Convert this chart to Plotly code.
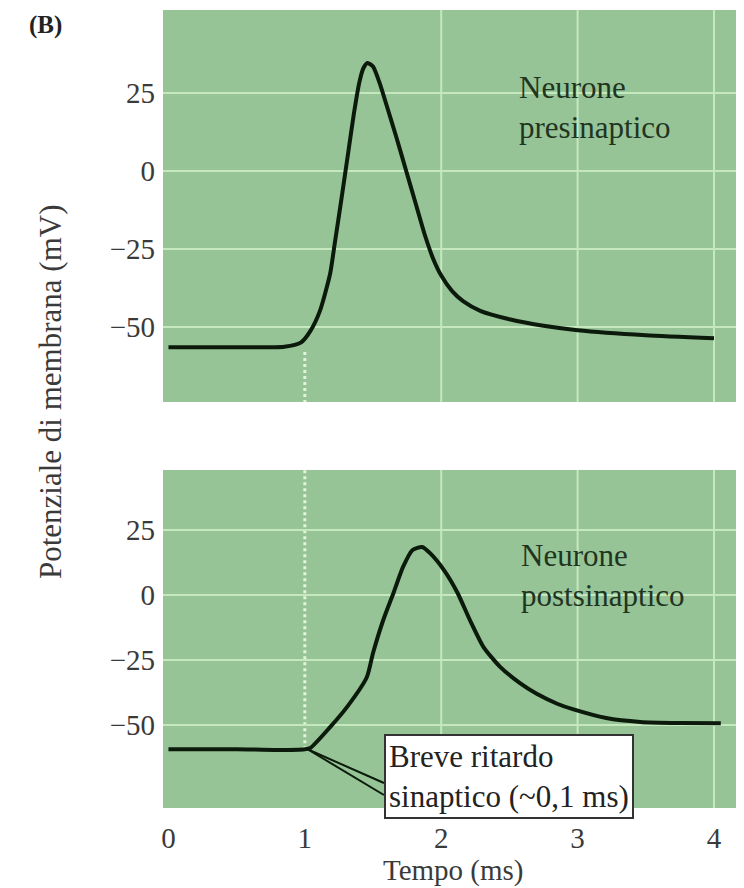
import plotly.graph_objects as go

# ---- data ----
pre_t = [0, 0.5, 0.85, 0.97, 1.04, 1.11, 1.185, 1.22, 1.27, 1.32, 1.36, 1.40, 1.43, 1.46,
         1.50, 1.55, 1.60, 1.67, 1.74, 1.81, 1.88, 1.94, 2.0, 2.08, 2.16, 2.29, 2.5, 2.75, 3.0, 3.5, 4.0]
pre_v = [-56.5, -56.5, -56.3, -55.0, -51.3, -44.9, -33, -23, -8.5, 6.5, 18.5, 28.5, 33, 34.6,
         33.5, 28, 21, 11, 0.5, -10, -20.5, -28, -33.5, -38.5, -41.7, -44.9, -47.5, -49.6, -51, -52.6, -53.6]

post_t = [0, 0.5, 0.8, 1.0, 1.04, 1.185, 1.31, 1.455, 1.50, 1.575, 1.65, 1.72, 1.79, 1.86,
          1.92, 2.02, 2.12, 2.21, 2.31, 2.43, 2.58, 2.70, 2.85, 2.97, 3.21, 3.46, 3.75, 4.05]
post_v = [-59.3, -59.3, -59.6, -59.3, -58.8, -50.8, -43, -31.5, -22.3, -9.6, 0.8, 10.8, 17.3, 18.5,
          16, 9.6, 0.8, -9.6, -20, -27.5, -34, -38, -41.8, -44, -47.3, -48.8, -49.2, -49.3]

x_ticks = [0, 1, 2, 3, 4]
y_ticks = [-50, -25, 0, 25]
grid_t = [2, 3, 4]
delay_t = 1.0

SERIF = "Liberation Serif, Times New Roman, serif"
BG = "#96c496"
GRID = "#c6e8be"
INK = "#0b1a0b"

TOP_RANGE = [-74, 51.6]
BOT_RANGE = [-81.9, 48.1]
X_RANGE = [-0.04, 4.22]

fig = go.Figure()
fig.add_trace(go.Scatter(x=pre_t, y=pre_v, mode="lines", line=dict(color=INK, width=4, shape="spline", smoothing=0.6),
                         xaxis="x", yaxis="y", showlegend=False, hoverinfo="skip"))
fig.add_trace(go.Scatter(x=post_t, y=post_v, mode="lines", line=dict(color=INK, width=4, shape="spline", smoothing=0.6),
                         xaxis="x2", yaxis="y2", showlegend=False, hoverinfo="skip"))

axis_common = dict(showline=False, zeroline=False, ticks="")
tick_font = dict(family=SERIF, size=29, color="#3a3a3a")
fig.update_layout(
    width=736, height=880,
    margin=dict(l=155, r=0, t=2, b=80),
    paper_bgcolor="white",
    plot_bgcolor=BG,
    font=dict(family=SERIF, size=29, color="#3a3a3a"),
    xaxis=dict(domain=[0, 1], range=X_RANGE, showticklabels=False, showgrid=False, anchor="y", **axis_common),
    yaxis=dict(domain=[0.5088, 1.0], range=TOP_RANGE, tickvals=y_ticks, showgrid=True, gridcolor=GRID,
               gridwidth=2, ticklabelstandoff=7, tickfont=tick_font, anchor="x", **axis_common),
    xaxis2=dict(domain=[0, 1], range=X_RANGE, tickvals=x_ticks, showgrid=False, anchor="y2",
                ticklabelstandoff=10, tickfont=tick_font, **axis_common),
    yaxis2=dict(domain=[0, 0.4236], range=BOT_RANGE, tickvals=y_ticks, showgrid=True, gridcolor=GRID,
                gridwidth=2, ticklabelstandoff=7, tickfont=tick_font, anchor="x2", **axis_common),
)

shapes = []
for g in grid_t:
    for xr, yr in (("x", "y domain"), ("x2", "y2 domain")):
        shapes.append(dict(type="line", xref=xr, yref=yr, x0=g, x1=g, y0=0, y1=1,
                           line=dict(color=GRID, width=2), layer="below"))
# dashed marker of stimulus time
shapes.append(dict(type="line", xref="x", yref="y", x0=delay_t, x1=delay_t, y0=-58, y1=TOP_RANGE[0],
                   line=dict(color="#e2f5dc", width=3, dash="dot"), layer="below"))
shapes.append(dict(type="line", xref="x2", yref="y2", x0=delay_t, x1=delay_t, y0=-59.3, y1=BOT_RANGE[1],
                   line=dict(color="#e2f5dc", width=3, dash="dot"), layer="below"))
# pointer lines to the box
shapes.append(dict(type="line", xref="x2", yref="y2", x0=delay_t + 0.02, y0=-59.3, x1=1.58, y1=-72.3,
                   line=dict(color=INK, width=2)))
shapes.append(dict(type="line", xref="x2", yref="y2", x0=delay_t + 0.02, y0=-59.3, x1=1.58, y1=-76.9,
                   line=dict(color=INK, width=2)))
fig.update_layout(shapes=shapes)

label_font = dict(family=SERIF, size=31, color="#1f351f")
fig.add_annotation(x=2.555, y=20.2, xref="x", yref="y", text="Neurone<br>presinaptico", showarrow=False,
                   xanchor="left", yanchor="middle", align="left", font=label_font)
fig.add_annotation(x=2.57, y=7.7, xref="x2", yref="y2", text="Neurone<br>postsinaptico", showarrow=False,
                   xanchor="left", yanchor="middle", align="left", font=label_font)
fig.add_annotation(x=1.58, y=-69.6, xref="x2", yref="y2", text="Breve ritardo<br>sinaptico (~0,1 ms)",
                   showarrow=False, xanchor="left", yanchor="middle", align="left",
                   font=dict(family=SERIF, size=31, color="#222222"),
                   bgcolor="white", bordercolor="#333333", borderwidth=2, borderpad=3)
fig.add_annotation(x=-0.1945, y=0.5213, xref="paper", yref="paper", text="Potenziale di membrana (mV)",
                   textangle=-90, showarrow=False, xanchor="center", yanchor="middle",
                   font=dict(family=SERIF, size=31, color="#3a3a3a"))
fig.add_annotation(x=0.5, y=-0.0777, xref="paper", yref="paper", text="Tempo (ms)", showarrow=False,
                   xanchor="center", yanchor="middle", font=dict(family=SERIF, size=29, color="#3a3a3a"))
fig.add_annotation(x=-0.203, y=0.981, xref="paper", yref="paper", text="<b>(B)</b>", showarrow=False,
                   xanchor="center", yanchor="middle", font=dict(family=SERIF, size=25, color="#222222"))

fig.write_html("out.html")
